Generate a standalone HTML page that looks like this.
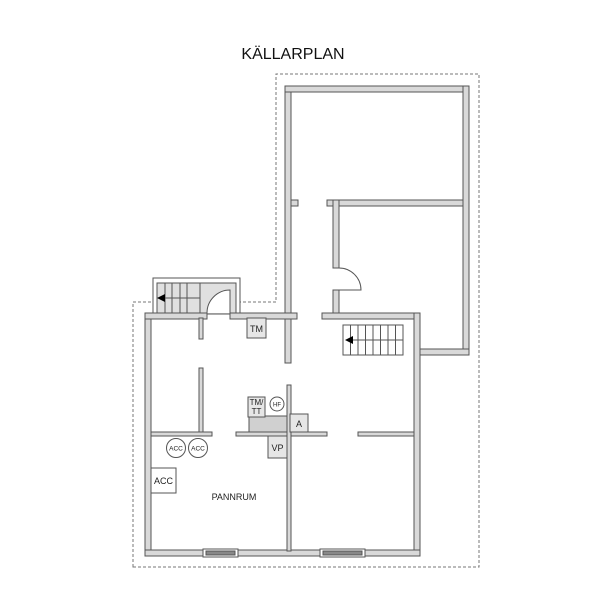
<!DOCTYPE html>
<html><head><meta charset="utf-8"><style>html,body{margin:0;padding:0;background:#fff;}svg{display:block}</style></head>
<body>
<svg width="615" height="615" viewBox="0 0 615 615" xmlns="http://www.w3.org/2000/svg" font-family="Liberation Sans, sans-serif">
<text x="293" y="59" font-size="16" text-anchor="middle" fill="#111">KÄLLARPLAN</text>
<path d="M133,567 V302 H276 V74 H479 V567 Z" fill="none" stroke="#777" stroke-width="1" stroke-dasharray="3,2"/>
<rect x="153" y="278" width="87" height="36" fill="#fff" stroke="#555"/>
<rect x="157" y="283" width="79" height="31" fill="#e0e0e0" stroke="#555"/>
<g stroke="#555" stroke-width="1">
<line x1="165" y1="283" x2="165" y2="313"/><line x1="172" y1="283" x2="172" y2="313"/><line x1="180" y1="283" x2="180" y2="313"/><line x1="187" y1="283" x2="187" y2="313"/><line x1="200" y1="283" x2="200" y2="313"/>
<line x1="162" y1="298" x2="200" y2="298"/>
</g>
<polygon points="157,298 165,294 165,302" fill="#000"/>
<path d="M207,313 A23,23 0 0 1 230,290 V313" fill="#fff" stroke="#555"/>
<g fill="#d9d9d9" stroke="#555" stroke-width="1">
<rect x="285" y="86" width="6" height="277"/>
<rect x="285" y="86" width="184" height="6"/>
<rect x="463" y="86" width="6" height="269"/>
<rect x="414" y="349" width="55" height="6"/>
<rect x="327" y="200" width="136" height="6"/>
<rect x="291" y="200" width="7" height="6"/>
<rect x="333" y="200" width="6" height="68"/>
<rect x="333" y="290" width="6" height="28"/>
<rect x="145" y="313" width="6" height="243"/>
<rect x="145" y="313" width="62" height="6"/>
<rect x="230" y="313" width="67" height="6"/>
<rect x="322" y="313" width="98" height="6"/>
<rect x="414" y="313" width="6" height="243"/>
<rect x="145" y="550" width="275" height="6"/>
<rect x="199" y="318" width="4" height="21"/>
<rect x="199" y="368" width="4" height="65"/>
<rect x="151" y="432" width="61" height="4"/>
<rect x="236" y="432" width="91" height="4"/>
<rect x="358" y="432" width="56" height="4"/>
<rect x="287" y="385" width="4" height="166"/>
</g>
<path d="M339,268 A22,22 0 0 1 361,290 H339" fill="#fff" stroke="#555"/>
<rect x="203" y="549" width="35" height="8" fill="#fff" stroke="#555"/>
<rect x="206" y="551" width="29" height="4" fill="#888" stroke="#555"/>
<rect x="320" y="549" width="45" height="8" fill="#fff" stroke="#555"/>
<rect x="323" y="551" width="39" height="4" fill="#888" stroke="#555"/>
<rect x="343" y="325" width="60" height="30" fill="#fff" stroke="#555"/>
<g stroke="#555">
<line x1="350.5" y1="325" x2="350.5" y2="355"/><line x1="358" y1="325" x2="358" y2="355"/><line x1="365.5" y1="325" x2="365.5" y2="355"/><line x1="373" y1="325" x2="373" y2="355"/><line x1="380.5" y1="325" x2="380.5" y2="355"/><line x1="388" y1="325" x2="388" y2="355"/><line x1="395.5" y1="325" x2="395.5" y2="355"/>
<line x1="348" y1="340" x2="403" y2="340"/>
</g>
<polygon points="345,340 353,336 353,344" fill="#000"/>
<g stroke="#555" fill="#e6e6e6">
<rect x="247" y="318" width="19" height="20"/>
<rect x="249" y="416" width="38" height="16" fill="#d0d0d0"/>
<rect x="248" y="397" width="17" height="20"/>
<rect x="290" y="414" width="18" height="18"/>
<rect x="268" y="436" width="19" height="22"/>
<rect x="151" y="468" width="25" height="25" fill="#fff"/>
<circle cx="277" cy="404" r="7" fill="#fff"/>
<circle cx="176" cy="448" r="9.5" fill="#fff"/>
<circle cx="198" cy="448" r="9.5" fill="#fff"/>
</g>
<g fill="#222" text-anchor="middle">
<text x="256.5" y="332" font-size="9">TM</text>
<text x="256.5" y="405" font-size="8">TM/</text>
<text x="256.5" y="414" font-size="8">TT</text>
<text x="277" y="406.5" font-size="6">HF</text>
<text x="299" y="427" font-size="9">A</text>
<text x="277.5" y="451" font-size="9">VP</text>
<text x="176" y="450.5" font-size="6.5">ACC</text>
<text x="198" y="450.5" font-size="6.5">ACC</text>
<text x="163.5" y="484" font-size="9">ACC</text>
<text x="234" y="500" font-size="9">PANNRUM</text>
</g>
</svg>
</body></html>
